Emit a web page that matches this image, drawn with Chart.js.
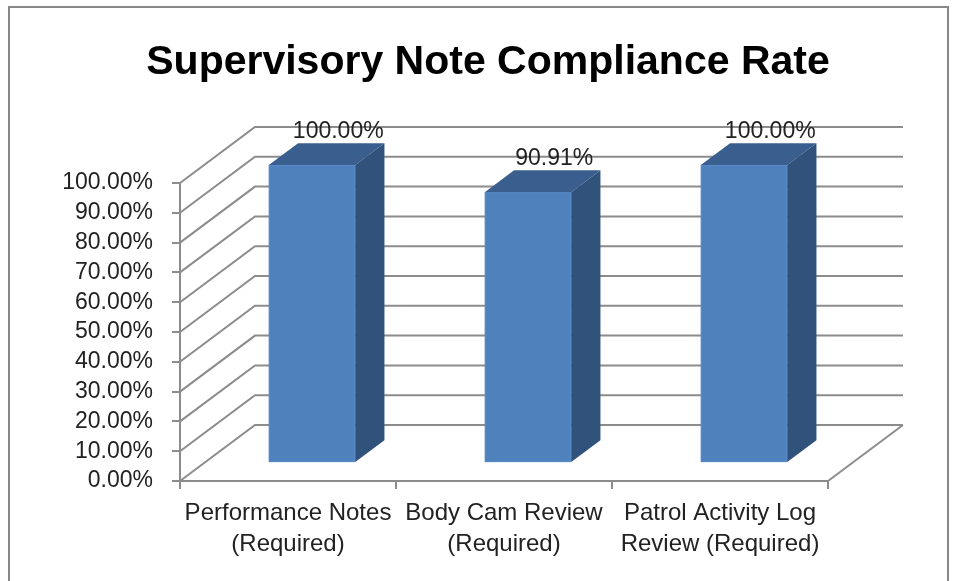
<!DOCTYPE html>
<html>
<head>
<meta charset="utf-8">
<script src="https://cdn.jsdelivr.net/npm/chart.js@4"></script>
<style>
  html, body { margin: 0; padding: 0; background: #fff; }
  #wrap { width: 959px; height: 581px; }
</style>
</head>
<body>
<div id="wrap"><canvas id="compliance"></canvas></div>
<script>
const title = 'Supervisory Note Compliance Rate';
const categories = [['Performance Notes', '(Required)'], ['Body Cam Review', '(Required)'], ['Patrol Activity Log', 'Review (Required)']];
const rates = [1.0, 0.9091, 1.0];
const yTicks = [0, 0.1, 0.2, 0.3, 0.4, 0.5, 0.6, 0.7, 0.8, 0.9, 1.0];

const pct = (v) => (v * 100).toFixed(2) + '%';
const fontFamily = '"Liberation Sans", Arial, sans-serif';

// depth of the 3d box, and where the bars sit inside it
const depth = { dx: 75, dy: -56 };
const barFront = 0.32, barBack = 0.71;
const gridColor = '#8c8c8c';

const frame = {
  id: 'frame',
  beforeDraw(chart) {
    const ctx = chart.ctx;
    ctx.save();
    ctx.fillStyle = '#fff';
    ctx.fillRect(0, 0, chart.width, chart.height);
    ctx.strokeStyle = '#888';
    ctx.lineWidth = 2;
    ctx.beginPath();
    ctx.moveTo(9, chart.height);
    ctx.lineTo(9, 7);
    ctx.lineTo(948, 7);
    ctx.lineTo(948, chart.height);
    ctx.stroke();
    ctx.restore();
  },
  afterDraw(chart) {
    const ctx = chart.ctx;
    ctx.save();
    ctx.fillStyle = '#000';
    ctx.font = 'bold 41px ' + fontFamily;
    ctx.textAlign = 'center';
    ctx.textBaseline = 'middle';
    ctx.fillText(title, 488, 63);
    ctx.restore();
  }
};

const box3d = {
  id: 'box3d',
  beforeDatasetsDraw(chart) {
    const ctx = chart.ctx;
    const area = chart.chartArea;
    const y = chart.scales.y;
    ctx.save();
    ctx.strokeStyle = gridColor;
    ctx.lineWidth = 2;
    yTicks.forEach(v => {
      const py = y.getPixelForValue(v);
      ctx.beginPath();
      ctx.moveTo(area.left, py);
      ctx.lineTo(area.left + depth.dx, py + depth.dy);
      ctx.lineTo(area.right + depth.dx, py + depth.dy);
      ctx.stroke();
    });
    // floor right edge
    ctx.beginPath();
    ctx.moveTo(area.right, area.bottom);
    ctx.lineTo(area.right + depth.dx, area.bottom + depth.dy);
    ctx.stroke();
    ctx.restore();
  },
  afterDatasetsDraw(chart) {
    const ctx = chart.ctx;
    const bars = chart.getDatasetMeta(0).data;
    const fx = depth.dx * barFront, fy = depth.dy * barFront;
    const bx = depth.dx * (barBack - barFront), by = depth.dy * (barBack - barFront);
    ctx.save();
    bars.forEach((bar, i) => {
      const l = bar.x - bar.width / 2 + fx;
      const r = bar.x + bar.width / 2 + fx;
      const t = bar.y + fy;
      const b = bar.base + fy;
      // front
      ctx.fillStyle = '#4f81bd';
      ctx.fillRect(l, t, r - l, b - t);
      ctx.strokeStyle = '#5b8ccb';
      ctx.lineWidth = 1;
      ctx.strokeRect(l + 0.5, t + 0.5, r - l - 1, b - t - 1);
      // top
      ctx.fillStyle = '#3a5f8e';
      ctx.beginPath();
      ctx.moveTo(l, t);
      ctx.lineTo(l + bx, t + by);
      ctx.lineTo(r + bx, t + by);
      ctx.lineTo(r, t);
      ctx.closePath();
      ctx.fill();
      // side
      ctx.fillStyle = '#31527b';
      ctx.beginPath();
      ctx.moveTo(r, t);
      ctx.lineTo(r + bx, t + by);
      ctx.lineTo(r + bx, b + by);
      ctx.lineTo(r, b);
      ctx.closePath();
      ctx.fill();
      // value label above the bar
      ctx.fillStyle = '#222';
      ctx.font = '23px ' + fontFamily;
      ctx.textAlign = 'center';
      ctx.textBaseline = 'alphabetic';
      ctx.fillText(pct(rates[i]), (l + r) / 2 + bx - 3, t + by - 5);
    });
    ctx.restore();
  }
};

const ctx = document.getElementById('compliance').getContext('2d');
const chart = new Chart(ctx, {
  type: 'bar',
  data: {
    labels: categories,
    datasets: [{
      data: rates,
      backgroundColor: 'rgba(0,0,0,0)',
      categoryPercentage: 1,
      barPercentage: 0.4,
    }],
  },
  options: {
    responsive: true,
    maintainAspectRatio: false,
    animation: false,
    layout: { padding: { left: 20, right: 131, top: 183, bottom: 20 } },
    plugins: {
      legend: { display: false },
      tooltip: { enabled: false },
    },
    scales: {
      x: {
        grid: { offset: true, drawOnChartArea: false, color: gridColor, lineWidth: 2, tickLength: 8 },
        border: { color: gridColor, width: 2 },
        ticks: {
          color: '#222',
          padding: 9,
          maxRotation: 0,
          font: { family: fontFamily, size: 24, lineHeight: 1.3 },
        },
        afterFit: (s) => { s.height = 80; },
      },
      y: {
        min: 0,
        max: 1,
        grid: { drawOnChartArea: false, color: gridColor, lineWidth: 2, tickLength: 8 },
        border: { color: gridColor, width: 2 },
        afterBuildTicks: (s) => { s.ticks = yTicks.map(v => ({ value: v })); },
        ticks: {
          color: '#222',
          padding: 19,
          autoSkip: false,
          callback: (v) => pct(v),
          font: { family: fontFamily, size: 23, lineHeight: 1.1 },
        },
        afterFit: (s) => { s.width = 160; },
      },
    },
  },
  plugins: [frame, box3d],
});
</script>
</body>
</html>
